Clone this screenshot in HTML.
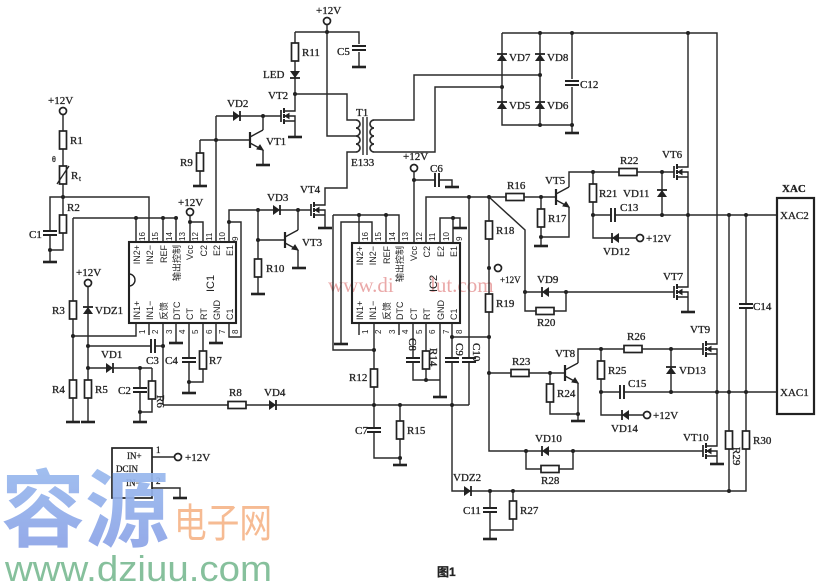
<!DOCTYPE html>
<html><head><meta charset="utf-8">
<style>html,body{margin:0;padding:0;background:#fff;width:838px;height:585px;overflow:hidden}</style>
</head><body>
<svg width="838" height="585" viewBox="0 0 838 585" xmlns="http://www.w3.org/2000/svg">
<defs>
<g id="rv"><rect x="-3.5" y="-9" width="7" height="18" fill="#fff" stroke="#222" stroke-width="1.7"/></g>
<g id="rh"><rect x="-9" y="-3.5" width="18" height="7" fill="#fff" stroke="#222" stroke-width="1.7"/></g>
<g id="gnd"><path d="M-7 0H7" stroke="#222" stroke-width="2.6"/></g>
<g id="cv"><rect x="-7" y="-2.5" width="14" height="5" fill="#fff"/><path d="M-7 -2H7M-7 2H7" stroke="#222" stroke-width="1.9"/></g>
<g id="ch"><rect x="-2.5" y="-7" width="5" height="14" fill="#fff"/><path d="M-2 -7V7M2 -7V7" stroke="#222" stroke-width="1.9"/></g>
<g id="du"><path d="M-5 4H5L0 -3Z" fill="#222"/><path d="M-5 -3H5" stroke="#222" stroke-width="1.8"/></g>
<g id="dr"><path d="M-4 -5V5L3 0Z" fill="#222"/><path d="M3 -5V5" stroke="#222" stroke-width="1.8"/></g>
<g id="dl"><path d="M4 -5V5L-3 0Z" fill="#222"/><path d="M-3 -5V5" stroke="#222" stroke-width="1.8"/></g>
<g id="oc"><circle r="3.5" fill="#fff" stroke="#222" stroke-width="1.7"/></g>
<g id="dot"><circle r="2" fill="#222"/></g>
<g id="mos" stroke="#222" fill="none">
 <path d="M0 -6V6" stroke-width="1.7"/>
 <path d="M3 -8V-3M3 -2V2M3 3V8" stroke-width="2"/>
 <path d="M3 -5H14V-9M3 5H14V9M3 0H14V5" stroke-width="1.4"/>
 <path d="M4 0L8 -2.5V2.5Z" fill="#222"/>
</g>
<g id="npn" stroke="#222" fill="none">
 <path d="M0 -8V8" stroke-width="2.2"/>
 <path d="M0 -3L13 -10M0 3L13 10" stroke-width="1.4"/>
 <path d="M13 10L7 9L10 5Z" fill="#222"/>
</g>
<linearGradient id="bl" x1="0" y1="0" x2="0" y2="1">
<stop offset="0" stop-color="#9cc0f0"/><stop offset="1" stop-color="#8a9fe6"/>
</linearGradient>
</defs>

<!-- watermarks -->
<text x="328" y="292" font-family="Liberation Serif, serif" font-size="21" fill="#e79a9a" opacity="0.85">www.di</text>
<text x="430" y="292" font-family="Liberation Serif, serif" font-size="21" fill="#e79a9a" opacity="0.85">lut.com</text>

<g fill="none" stroke="#2a2a2a" stroke-width="1.45">
<!-- top -->
<path d="M327 25V136H356"/>
<path d="M295 32H359V44M359 52V66"/>
<path d="M295 32V107M295 125V137"/>
<path d="M295 94H347V120H356"/>
<path d="M356 152H347V188H325V201M325 219V228"/>
<path d="M216 116H281M216 116V242M263 116V130M263 150V164"/>
<path d="M200 140H250M200 140V185"/>
<path d="M229 242V210H311M258 210V293M258 240H285M298 210V230M298 250V267"/>
<!-- transformer -->
<path d="M356 120a4 4 0 0 1 0 8a4 4 0 0 1 0 8a4 4 0 0 1 0 8a4 4 0 0 1 0 8" stroke-width="1.7"/>
<path d="M374 120a4 4 0 0 0 0 8a4 4 0 0 0 0 8a4 4 0 0 0 0 8a4 4 0 0 0 0 8" stroke-width="1.7"/>
<path d="M363 117V155M367 117V155" stroke-width="1.4"/>
<!-- bridge -->
<path d="M374 120H414V75H540M374 152H435V87H502"/>
<path d="M502 33H717V340M502 33V125H572M540 33V125M572 33V79M572 87V132"/>
<path d="M688 33V163M688 181V283M688 301V311M717 358V442M717 460V463"/>
<!-- VT5 area -->
<path d="M426 243V197H556M469 197V405M541 197V237H569V207M541 237V245"/>
<path d="M569 187V172H674M593 172V238H636M593 215H777M662 172V215"/>
<path d="M489 197L525 230V311H566V292M525 292H674"/>
<path d="M489 197V451H703M526 451V469H573V451"/>
<path d="M452 323V491H746V215M452 337H489M163 405H469"/>
<path d="M490 491V530H513V491M490 530V538M729 215V491"/>
<path d="M489 373H565M550 373V414H578M578 383V420M578 363V349H703"/>
<path d="M601 349V415H643M601 392H777M671 349V392"/>
<!-- left -->
<path d="M63 115V250H50V197H149V242M50 250V261"/>
<path d="M73 218H176M136 218V242M163 218V242M176 218V242M73 218V421"/>
<path d="M73 336H136V323"/>
<path d="M88 287V421M88 346H163M163 323V405M88 368H152M140 368V421M152 368V412H140"/>
<path d="M149 323V335M176 323V342M189 323V392M203 323V382H189M216 323V342"/>
<path d="M229 323V337H241V222H229"/>
<path d="M190 216V242M190 222H203V242"/>
<!-- IC2 wiring -->
<path d="M333 215H399V243M359 215V243M386 215V243M333 215V350H374"/>
<path d="M372 243V222H341V343"/>
<path d="M359 323V335M374 323V458H400M400 405V464M399 323V335"/>
<path d="M413 323V380H440M426 323V380M440 323V396"/>
<path d="M414 172V243M414 180H452V186"/>
<path d="M440 243V218H460V227M453 243V218"/>
<!-- DCIN -->
<path d="M152 457H175M152 488H180V497"/>
</g>

<!-- boxes -->
<rect x="129" y="242" width="107" height="81" fill="none" stroke="#222" stroke-width="2.1"/>
<path d="M129 274a5 5 0 0 1 0 12" fill="none" stroke="#222" stroke-width="1.4"/>
<rect x="352" y="243" width="108" height="80" fill="none" stroke="#222" stroke-width="2.1"/>
<rect x="777" y="198" width="37" height="216" fill="none" stroke="#222" stroke-width="2.2"/>
<rect x="112" y="448" width="40" height="50" fill="none" stroke="#222" stroke-width="1.7"/>

<!-- components -->
<use href="#rv" x="295" y="52"/><use href="#du" x="295" y="75" transform="rotate(180 295 75)"/>
<use href="#cv" x="359" y="48"/><use href="#gnd" x="359" y="67"/>
<use href="#mos" x="281" y="116"/><use href="#gnd" x="295" y="137"/>
<use href="#dr" x="237" y="116"/>
<use href="#npn" x="250" y="140"/><use href="#gnd" x="263" y="165"/>
<use href="#rv" x="200" y="162"/><use href="#gnd" x="200" y="186"/>
<use href="#dr" x="277" y="210"/>
<use href="#mos" x="311" y="210"/><use href="#gnd" x="325" y="228"/>
<use href="#npn" x="285" y="240"/><use href="#gnd" x="299" y="268"/>
<use href="#rv" x="258" y="268"/><use href="#gnd" x="258" y="294"/>
<use href="#oc" x="327" y="21"/>
<!-- bridge -->
<use href="#du" x="502" y="57"/><use href="#du" x="540" y="57"/>
<use href="#du" x="502" y="105"/><use href="#du" x="540" y="105"/>
<use href="#cv" x="572" y="83"/><use href="#gnd" x="572" y="133"/>
<use href="#mos" x="674" y="172"/><use href="#mos" x="674" y="292"/><use href="#gnd" x="688" y="312"/>
<use href="#mos" x="703" y="349"/><use href="#mos" x="703" y="451"/><use href="#gnd" x="717" y="464"/>
<!-- VT5 area -->
<use href="#rh" x="515" y="197"/>
<use href="#npn" x="556" y="197"/>
<use href="#rv" x="541" y="218"/><use href="#gnd" x="541" y="246"/>
<use href="#rh" x="628" y="172"/>
<use href="#rv" x="593" y="193"/>
<use href="#dl" x="615" y="238"/><use href="#oc" x="640" y="238"/>
<use href="#ch" x="613" y="215"/>
<use href="#du" x="662" y="193"/>
<use href="#rh" x="545" y="311"/><use href="#dl" x="545" y="292"/>
<use href="#rv" x="489" y="230"/><use href="#oc" x="498" y="268"/><use href="#rv" x="489" y="303"/>
<use href="#dl" x="545" y="451"/><use href="#rh" x="550" y="469"/>
<use href="#cv" x="452" y="360"/><use href="#cv" x="469" y="360"/>
<use href="#dr" x="468" y="491"/>
<use href="#cv" x="490" y="510"/><use href="#rv" x="513" y="510"/><use href="#gnd" x="490" y="539"/>
<use href="#rv" x="729" y="440"/><use href="#cv" x="746" y="306"/><use href="#rv" x="746" y="440"/>
<use href="#rh" x="520" y="373"/><use href="#rv" x="550" y="393"/>
<use href="#npn" x="565" y="373"/><use href="#gnd" x="578" y="421"/>
<use href="#rh" x="633" y="349"/><use href="#rv" x="601" y="370"/>
<use href="#dl" x="625" y="415"/><use href="#oc" x="647" y="415"/>
<use href="#ch" x="622" y="392"/><use href="#du" x="671" y="370"/>
<!-- left -->
<use href="#oc" x="63" y="111"/>
<use href="#rv" x="63" y="140"/><use href="#rv" x="63" y="175"/>
<path d="M57 184L69 166" stroke="#222" stroke-width="1.3"/>
<use href="#rv" x="63" y="224"/><use href="#cv" x="50" y="233"/><use href="#gnd" x="50" y="262"/>
<use href="#rv" x="73" y="310"/><use href="#rv" x="73" y="389"/><use href="#gnd" x="73" y="422"/>
<use href="#oc" x="88" y="283"/><use href="#du" x="88" y="310"/><use href="#rv" x="88" y="389"/><use href="#gnd" x="88" y="422"/>
<use href="#ch" x="153" y="346"/><use href="#dr" x="110" y="368"/>
<use href="#cv" x="140" y="390"/><use href="#rv" x="152" y="390"/><use href="#gnd" x="140" y="422"/>
<use href="#gnd" x="176" y="343"/><use href="#gnd" x="216" y="343"/>
<use href="#cv" x="189" y="360"/><use href="#rv" x="203" y="360"/><use href="#gnd" x="189" y="393"/>
<use href="#rh" x="237" y="405"/><use href="#dr" x="273" y="405"/>
<use href="#oc" x="190" y="212"/>
<!-- IC2 parts -->
<use href="#gnd" x="341" y="344"/>
<use href="#rv" x="374" y="378"/><use href="#cv" x="374" y="430"/>
<use href="#rv" x="400" y="430"/><use href="#gnd" x="400" y="465"/>
<use href="#cv" x="413" y="360"/><use href="#rv" x="426" y="360"/><use href="#gnd" x="440" y="397"/>
<use href="#oc" x="414" y="168"/><use href="#ch" x="437" y="180"/><use href="#gnd" x="452" y="187"/>
<use href="#gnd" x="460" y="228"/>
<use href="#oc" x="178" y="457"/><use href="#gnd" x="180" y="498"/>

<!-- dots -->
<g>
<use href="#dot" x="327" y="32"/><use href="#dot" x="295" y="94"/><use href="#dot" x="263" y="116"/><use href="#dot" x="216" y="140"/>
<use href="#dot" x="258" y="210"/><use href="#dot" x="298" y="210"/><use href="#dot" x="258" y="240"/>
<use href="#dot" x="502" y="87"/><use href="#dot" x="540" y="75"/><use href="#dot" x="540" y="33"/><use href="#dot" x="572" y="33"/><use href="#dot" x="688" y="33"/>
<use href="#dot" x="540" y="125"/><use href="#dot" x="572" y="125"/>
<use href="#dot" x="469" y="197"/><use href="#dot" x="489" y="197"/><use href="#dot" x="541" y="197"/><use href="#dot" x="541" y="237"/>
<use href="#dot" x="593" y="172"/><use href="#dot" x="662" y="172"/><use href="#dot" x="593" y="215"/><use href="#dot" x="662" y="215"/>
<use href="#dot" x="688" y="215"/><use href="#dot" x="729" y="215"/><use href="#dot" x="746" y="215"/>
<use href="#dot" x="525" y="292"/><use href="#dot" x="566" y="292"/><use href="#dot" x="489" y="268"/>
<use href="#dot" x="489" y="337"/><use href="#dot" x="489" y="373"/><use href="#dot" x="452" y="337"/><use href="#dot" x="452" y="405"/>
<use href="#dot" x="374" y="405"/><use href="#dot" x="400" y="405"/><use href="#dot" x="400" y="458"/><use href="#dot" x="374" y="350"/>
<use href="#dot" x="526" y="451"/><use href="#dot" x="573" y="451"/><use href="#dot" x="550" y="373"/>
<use href="#dot" x="601" y="349"/><use href="#dot" x="671" y="349"/><use href="#dot" x="601" y="392"/><use href="#dot" x="671" y="392"/>
<use href="#dot" x="717" y="392"/><use href="#dot" x="729" y="392"/><use href="#dot" x="746" y="392"/>
<use href="#dot" x="490" y="491"/><use href="#dot" x="513" y="491"/><use href="#dot" x="729" y="491"/><use href="#dot" x="578" y="414"/>
<use href="#dot" x="63" y="197"/><use href="#dot" x="50" y="250"/><use href="#dot" x="136" y="218"/><use href="#dot" x="163" y="218"/><use href="#dot" x="176" y="218"/>
<use href="#dot" x="73" y="336"/><use href="#dot" x="88" y="346"/><use href="#dot" x="88" y="368"/><use href="#dot" x="163" y="346"/>
<use href="#dot" x="140" y="368"/><use href="#dot" x="140" y="412"/><use href="#dot" x="189" y="382"/>
<use href="#dot" x="190" y="222"/><use href="#dot" x="229" y="222"/>
<use href="#dot" x="359" y="215"/><use href="#dot" x="386" y="215"/><use href="#dot" x="414" y="180"/><use href="#dot" x="426" y="380"/><use href="#dot" x="453" y="218"/>
</g>

<!-- labels -->
<g font-family="Liberation Serif, serif" font-size="11" fill="#222" stroke="#222" stroke-width="0.3">
<text x="316" y="14">+12V</text>
<text x="302" y="56">R11</text><text x="337" y="55">C5</text>
<text x="263" y="78">LED</text><text x="268" y="99">VT2</text><text x="227" y="107">VD2</text>
<text x="266" y="145">VT1</text><text x="180" y="166">R9</text>
<text x="356" y="116">T1</text><text x="351" y="166">E133</text>
<text x="267" y="201">VD3</text><text x="300" y="193">VT4</text><text x="302" y="246">VT3</text><text x="266" y="272">R10</text>
<text x="178" y="206">+12V</text><text x="48" y="104">+12V</text>
<text x="70" y="144">R1</text><text x="71" y="179">R</text><text x="79" y="181" font-size="7">t</text>
<text x="52" y="162" font-size="8">θ</text>
<text x="67" y="211">R2</text><text x="29" y="238">C1</text>
<text x="76" y="276">+12V</text><text x="52" y="314">R3</text><text x="95" y="314">VDZ1</text>
<text x="101" y="358">VD1</text><text x="146" y="364">C3</text>
<text x="52" y="393">R4</text><text x="95" y="393">R5</text><text x="118" y="394">C2</text>
<text transform="translate(157,395) rotate(90)">R6</text>
<text x="165" y="364">C4</text><text x="209" y="364">R7</text>
<text x="229" y="396">R8</text><text x="264" y="396">VD4</text>
<text x="349" y="381">R12</text><text x="355" y="434">C7</text><text x="407" y="434">R15</text>
<text transform="translate(409,338) rotate(90)">C8</text>
<text transform="translate(430,348) rotate(90)">R14</text>
<text transform="translate(456,343) rotate(90)">C9</text>
<text transform="translate(473,343) rotate(90)">C10</text>
<text x="403" y="160">+12V</text><text x="430" y="172">C6</text>
<text x="509" y="61">VD7</text><text x="547" y="61">VD8</text><text x="509" y="109">VD5</text><text x="547" y="109">VD6</text>
<text x="580" y="88">C12</text>
<text x="507" y="189">R16</text><text x="545" y="184">VT5</text><text x="548" y="222">R17</text>
<text x="496" y="234">R18</text><text x="500" y="283" font-size="9">+12V</text><text x="496" y="307">R19</text>
<text x="537" y="283">VD9</text><text x="537" y="326">R20</text>
<text x="620" y="164">R22</text><text x="662" y="158">VT6</text><text x="599" y="197">R21</text>
<text x="623" y="197">VD11</text><text x="620" y="211">C13</text><text x="603" y="255">VD12</text><text x="646" y="242">+12V</text>
<text x="663" y="280">VT7</text>
<text x="782" y="192" font-weight="bold">XAC</text><text x="780" y="219">XAC2</text><text x="780" y="396">XAC1</text>
<text x="753" y="310">C14</text>
<text x="512" y="365">R23</text><text x="555" y="357">VT8</text><text x="557" y="397">R24</text>
<text x="627" y="340">R26</text><text x="690" y="333">VT9</text><text x="608" y="374">R25</text>
<text x="679" y="374">VD13</text><text x="628" y="387">C15</text><text x="611" y="432">VD14</text><text x="653" y="419">+12V</text>
<text x="535" y="442">VD10</text><text x="541" y="484">R28</text><text x="683" y="441">VT10</text>
<text transform="translate(733,447) rotate(90)">R29</text><text x="753" y="444">R30</text>
<text x="453" y="481">VDZ2</text><text x="463" y="514">C11</text><text x="520" y="514">R27</text>
<text x="127" y="459" font-size="9">IN+</text><text x="116" y="472" font-size="9">DCIN</text><text x="126" y="486" font-size="9">IN−</text>
<text x="156" y="453" font-size="9">1</text><text x="156" y="484" font-size="9">2</text>
<text x="185" y="461">+12V</text>
<text x="437" y="576" font-family="Liberation Sans, Noto Sans CJK SC, sans-serif" font-weight="bold" font-size="12">图1</text>
</g>

<!-- IC labels -->
<g font-family="Liberation Sans, Noto Sans CJK SC, sans-serif" font-size="9" fill="#222">
<text transform="translate(140,245) rotate(-90)" text-anchor="end">IN2+</text>
<text transform="translate(153,245) rotate(-90)" text-anchor="end">IN2−</text>
<text transform="translate(167,245) rotate(-90)" text-anchor="end">REF</text>
<text transform="translate(180,245) rotate(-90)" text-anchor="end">输出控制</text>
<text transform="translate(193,245) rotate(-90)" text-anchor="end">Vcc</text>
<text transform="translate(207,245) rotate(-90)" text-anchor="end">C2</text>
<text transform="translate(220,245) rotate(-90)" text-anchor="end">E2</text>
<text transform="translate(233,245) rotate(-90)" text-anchor="end">E1</text>
<text transform="translate(140,320) rotate(-90)">IN1+</text>
<text transform="translate(153,320) rotate(-90)">IN1−</text>
<text transform="translate(167,320) rotate(-90)">反馈</text>
<text transform="translate(180,320) rotate(-90)">DTC</text>
<text transform="translate(193,320) rotate(-90)">CT</text>
<text transform="translate(207,320) rotate(-90)">RT</text>
<text transform="translate(220,320) rotate(-90)">GND</text>
<text transform="translate(233,320) rotate(-90)">C1</text>
<text transform="translate(214,292) rotate(-90)" font-size="11">IC1</text>
<text transform="translate(363,246) rotate(-90)" text-anchor="end">IN2+</text>
<text transform="translate(376,246) rotate(-90)" text-anchor="end">IN2−</text>
<text transform="translate(390,246) rotate(-90)" text-anchor="end">REF</text>
<text transform="translate(403,246) rotate(-90)" text-anchor="end">输出控制</text>
<text transform="translate(417,246) rotate(-90)" text-anchor="end">Vcc</text>
<text transform="translate(430,246) rotate(-90)" text-anchor="end">C2</text>
<text transform="translate(444,246) rotate(-90)" text-anchor="end">E2</text>
<text transform="translate(457,246) rotate(-90)" text-anchor="end">E1</text>
<text transform="translate(363,320) rotate(-90)">IN1+</text>
<text transform="translate(376,320) rotate(-90)">IN1−</text>
<text transform="translate(390,320) rotate(-90)">反馈</text>
<text transform="translate(403,320) rotate(-90)">DTC</text>
<text transform="translate(417,320) rotate(-90)">CT</text>
<text transform="translate(430,320) rotate(-90)">RT</text>
<text transform="translate(444,320) rotate(-90)">GND</text>
<text transform="translate(457,320) rotate(-90)">C1</text>
<text transform="translate(437,292) rotate(-90)" font-size="11">IC2</text>
</g>
<!-- pin numbers -->
<g font-family="Liberation Sans, sans-serif" font-size="8" fill="#222">
<text transform="translate(145,241) rotate(-90)">16</text><text transform="translate(158,241) rotate(-90)">15</text>
<text transform="translate(172,241) rotate(-90)">14</text><text transform="translate(185,241) rotate(-90)">13</text>
<text transform="translate(198,241) rotate(-90)">12</text><text transform="translate(212,241) rotate(-90)">11</text>
<text transform="translate(225,241) rotate(-90)">10</text><text transform="translate(238,241) rotate(-90)">9</text>
<text transform="translate(145,334) rotate(-90)">1</text><text transform="translate(158,334) rotate(-90)">2</text>
<text transform="translate(172,334) rotate(-90)">3</text><text transform="translate(185,334) rotate(-90)">4</text>
<text transform="translate(198,334) rotate(-90)">5</text><text transform="translate(212,334) rotate(-90)">6</text>
<text transform="translate(225,334) rotate(-90)">7</text><text transform="translate(238,334) rotate(-90)">8</text>
<text transform="translate(368,241) rotate(-90)">16</text><text transform="translate(381,241) rotate(-90)">15</text>
<text transform="translate(395,241) rotate(-90)">14</text><text transform="translate(408,241) rotate(-90)">13</text>
<text transform="translate(422,241) rotate(-90)">12</text><text transform="translate(435,241) rotate(-90)">11</text>
<text transform="translate(449,241) rotate(-90)">10</text><text transform="translate(462,241) rotate(-90)">9</text>
<text transform="translate(368,334) rotate(-90)">1</text><text transform="translate(381,334) rotate(-90)">2</text>
<text transform="translate(395,334) rotate(-90)">3</text><text transform="translate(408,334) rotate(-90)">4</text>
<text transform="translate(422,334) rotate(-90)">5</text><text transform="translate(435,334) rotate(-90)">6</text>
<text transform="translate(449,334) rotate(-90)">7</text><text transform="translate(462,334) rotate(-90)">8</text>
</g>

<!-- site watermark -->
<text x="1" y="540" font-family="Noto Sans CJK SC, sans-serif" font-weight="bold" font-size="84" fill="url(#bl)" opacity="0.92">容源</text>
<text x="174" y="537" font-family="Noto Sans CJK SC, sans-serif" font-size="40" fill="#f6b488" opacity="0.9" textLength="98" lengthAdjust="spacingAndGlyphs">电子网</text>
<text x="5" y="581" font-family="Liberation Sans, sans-serif" font-size="36" fill="#86c09c" textLength="267" lengthAdjust="spacingAndGlyphs">www.dziuu.com</text>
</svg>
</body></html>
